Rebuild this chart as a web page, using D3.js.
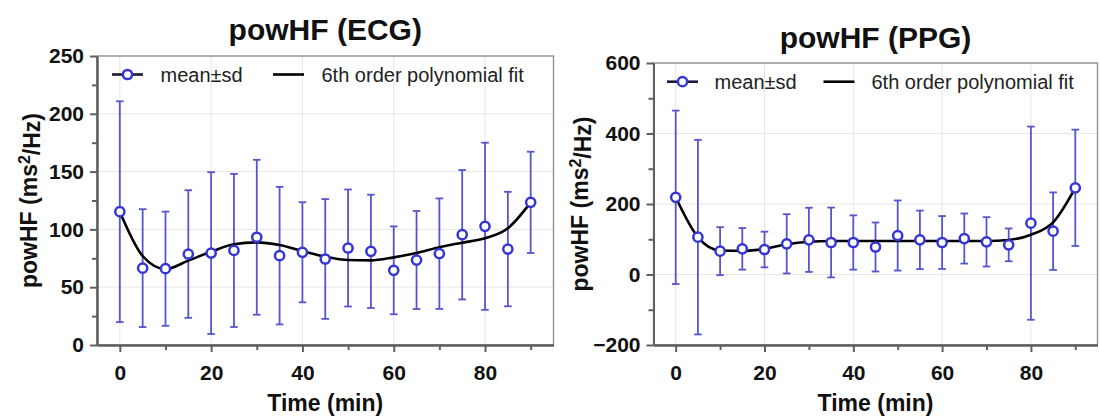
<!DOCTYPE html>
<html>
<head>
<meta charset="utf-8">
<script src="https://cdn.jsdelivr.net/npm/d3@7"></script>
<style>
  html, body { margin: 0; padding: 0; background: #fff; }
  svg { display: block; font-family: "Liberation Sans", Arial, Helvetica, sans-serif; }
</style>
</head>
<body>
<svg id="chart" width="1100" height="418"></svg>
<script>
// Sampling times (min)
const times = [0, 5, 10, 15, 20, 25, 30, 35, 40, 45, 50, 55, 60, 65, 70, 75, 80, 85, 90];

// powHF from ECG: mean, standard deviation and 6th order polynomial fit (ms²/Hz)
const ecgMean = [115.3, 66.5, 66, 78.7, 79.5, 81.8, 93.2, 77.3, 80.2, 74.4, 83.9, 81, 64.6, 73.5, 79, 95.4, 102.7, 83, 123.4];
const ecgSd   = [95.5, 51, 49.4, 55.2, 70, 66.2, 67, 59.5, 43.3, 51.8, 50.6, 49, 38, 42.4, 47.8, 56, 72.3, 49.5, 43.8];
const ecgFit  = [115.3, 77, 65.7, 73, 80.7, 87.1, 88.8, 86.5, 81.3, 76.4, 73.5, 73.2, 75.8, 79.5, 84.5, 88.5, 92.3, 101, 123.4];

// powHF from PPG: mean, standard deviation and 6th order polynomial fit (ms²/Hz)
const ppgMean = [219, 106, 66.2, 72.8, 70.9, 87, 98.3, 90.8, 90.8, 78, 110.6, 98.3, 90.8, 102, 92.7, 84.1, 145.6, 122.9, 245.9];
const ppgSd   = [246, 276, 68, 59, 50.6, 84, 91, 99, 77, 69.5, 99.5, 83, 75, 71, 70, 46.5, 274, 110, 165];
const ppgFit  = [219, 106, 68, 67, 73, 86, 93, 95, 95, 95, 95, 95, 95, 95, 95, 98, 113, 148, 246];

// Axis ticks
const xMajorTicks = [0, 20, 40, 60, 80];
const xMinorTicks = [10, 30, 50, 70, 90];
const ecgYMajor = [0, 50, 100, 150, 200, 250];
const ecgYMinor = [25, 75, 125, 175, 225];
const ppgYMajor = [-200, 0, 200, 400, 600];
const ppgYMinor = [-100, 100, 300, 500];

// Text
const titles = ["powHF (ECG)", "powHF (PPG)"];
const xTitle = "Time (min)";
const legendLabels = ["mean\u00B1sd", "6th order polynomial fit"];

const svg = d3.select("#chart");

const MARK = "#3535d6";
const BAR = "#5555d0";
const AXIS = "#5f5f5f";
const FRAME = "#8a8a8a";
const GRID = "#e6e6e6";

function drawPanel(cfg) {
  const { left, right, top, bottom } = cfg;
  const x = d3.scaleLinear().domain([-5, 95]).range([left, right]);
  const y = d3.scaleLinear().domain(cfg.yDomain).range([bottom, top]);
  const g = svg.append("g");

  // grid
  g.append("g").selectAll("line").data(xMajorTicks).join("line")
    .attr("x1", d => x(d)).attr("x2", d => x(d))
    .attr("y1", top).attr("y2", bottom)
    .attr("stroke", GRID).attr("stroke-width", 1);
  g.append("g").selectAll("line").data(cfg.yMajor).join("line")
    .attr("x1", left).attr("x2", right)
    .attr("y1", d => y(d)).attr("y2", d => y(d))
    .attr("stroke", GRID).attr("stroke-width", 1);

  // frame
  g.append("rect")
    .attr("x", left).attr("y", top)
    .attr("width", right - left).attr("height", bottom - top)
    .attr("fill", "none").attr("stroke", FRAME).attr("stroke-width", 1.3);

  // axes
  const axStyle = sel => {
    sel.selectAll("path.domain").attr("stroke", AXIS).attr("stroke-width", 2);
    sel.selectAll(".tick line").attr("stroke", AXIS).attr("stroke-width", 2);
    sel.selectAll("text").attr("fill", "#111").attr("font-size", 21).attr("font-weight", "bold")
      .attr("font-family", '"Liberation Sans", Arial, sans-serif');
  };
  g.append("g").attr("transform", `translate(0,${bottom})`)
    .call(d3.axisBottom(x).tickValues(xMinorTicks).tickSize(5).tickFormat("").tickSizeOuter(0))
    .call(axStyle);
  g.append("g").attr("transform", `translate(0,${bottom})`)
    .call(d3.axisBottom(x).tickValues(xMajorTicks).tickSize(7).tickPadding(13).tickSizeOuter(0))
    .call(axStyle);
  g.append("g").attr("transform", `translate(${left},0)`)
    .call(d3.axisLeft(y).tickValues(cfg.yMinor).tickSize(5).tickFormat("").tickSizeOuter(0))
    .call(axStyle);
  g.append("g").attr("transform", `translate(${left},0)`)
    .call(d3.axisLeft(y).tickValues(cfg.yMajor).tickSize(7).tickPadding(6).tickSizeOuter(0))
    .call(axStyle);

  // error bars
  const rows = times.map((t, i) => ({ t, m: cfg.mean[i], s: cfg.sd[i], f: cfg.fit[i] }));
  const eb = g.append("g").attr("stroke", BAR).attr("stroke-width", 1.8).attr("fill", "none");
  eb.selectAll("line.v").data(rows).join("line").attr("class", "v")
    .attr("x1", d => x(d.t)).attr("x2", d => x(d.t))
    .attr("y1", d => y(d.m - d.s)).attr("y2", d => y(d.m + d.s));
  eb.selectAll("line.cu").data(rows).join("line").attr("class", "cu")
    .attr("x1", d => x(d.t) - 3.8).attr("x2", d => x(d.t) + 3.8)
    .attr("y1", d => y(d.m + d.s)).attr("y2", d => y(d.m + d.s));
  eb.selectAll("line.cl").data(rows).join("line").attr("class", "cl")
    .attr("x1", d => x(d.t) - 3.8).attr("x2", d => x(d.t) + 3.8)
    .attr("y1", d => y(d.m - d.s)).attr("y2", d => y(d.m - d.s));

  // fit curve
  const line = d3.line().x(d => x(d.t)).y(d => y(d.f)).curve(d3.curveMonotoneX);
  g.append("path").datum(rows).attr("d", line)
    .attr("fill", "none").attr("stroke", "#000").attr("stroke-width", 2.6);

  // mean markers
  g.append("g").selectAll("circle").data(rows).join("circle")
    .attr("cx", d => x(d.t)).attr("cy", d => y(d.m)).attr("r", 4.6)
    .attr("fill", "#fff").attr("stroke", MARK).attr("stroke-width", 2.5);

  // legend
  const L = cfg.legend;
  g.append("line").attr("x1", L.x0).attr("x2", L.x0 + 31).attr("y1", L.y).attr("y2", L.y)
    .attr("stroke", "#1a1a3a").attr("stroke-width", 2.6);
  g.append("circle").attr("cx", L.x0 + 15.5).attr("cy", L.y).attr("r", 4.6)
    .attr("fill", "#fff").attr("stroke", MARK).attr("stroke-width", 2.5);
  g.append("text").attr("x", L.t0).attr("y", L.y).attr("dy", "0.35em")
    .attr("font-size", 20).attr("fill", "#222").text(legendLabels[0]);
  g.append("line").attr("x1", L.x1).attr("x2", L.x1 + 31).attr("y1", L.y).attr("y2", L.y)
    .attr("stroke", "#000").attr("stroke-width", 2.6);
  g.append("text").attr("x", L.t1).attr("y", L.y).attr("dy", "0.35em")
    .attr("font-size", 20).attr("fill", "#222").text(legendLabels[1]);

  // titles
  svg.append("text").attr("x", (left + right) / 2).attr("y", cfg.titleY)
    .attr("text-anchor", "middle").attr("font-size", 30).attr("font-weight", "bold")
    .attr("fill", "#111").text(cfg.title);
  svg.append("text").attr("x", (left + right) / 2).attr("y", 411)
    .attr("text-anchor", "middle").attr("font-size", 23).attr("font-weight", "bold")
    .attr("fill", "#111").text(xTitle);

  const yl = svg.append("text")
    .attr("transform", `translate(${cfg.yLabelX},${(top + bottom) / 2}) rotate(-90)`)
    .attr("text-anchor", "middle").attr("font-size", 23).attr("font-weight", "bold")
    .attr("fill", "#111");
  yl.append("tspan").text("powHF (ms");
  yl.append("tspan").attr("dy", "-0.45em").attr("font-size", 16).text("2");
  yl.append("tspan").attr("dy", "0.45em").text("/Hz)");
}

drawPanel({
  left: 97, right: 553.5, top: 56, bottom: 345,
  yDomain: [0, 250], yMajor: ecgYMajor, yMinor: ecgYMinor,
  mean: ecgMean, sd: ecgSd, fit: ecgFit,
  title: titles[0], titleY: 40, yLabelX: 37,
  legend: { x0: 112, t0: 160.5, x1: 273, t1: 321.5, y: 74.5 }
});

drawPanel({
  left: 653.5, right: 1097.5, top: 63, bottom: 345,
  yDomain: [-200, 600], yMajor: ppgYMajor, yMinor: ppgYMinor,
  mean: ppgMean, sd: ppgSd, fit: ppgFit,
  title: titles[1], titleY: 48, yLabelX: 588,
  legend: { x0: 667, t0: 714.5, x1: 823.5, t1: 871.5, y: 81.7 }
});
</script>
</body>
</html>
